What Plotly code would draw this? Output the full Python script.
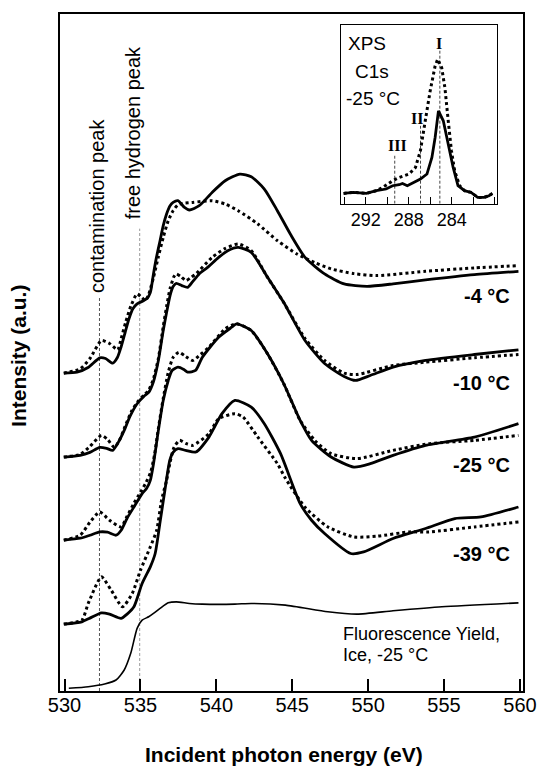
import plotly.graph_objects as go

# ---------------- main panel data (energy in eV, intensity in a.u.) ----------------
m4_solid_x = [529.95, 530.82, 531.55, 532.32, 532.70, 533.17, 533.48, 533.72, 533.99, 534.25, 534.51, 534.78,
              535.22, 535.43, 535.65, 535.86, 536.05, 536.29, 536.50, 536.72, 536.95, 537.15, 537.47, 537.90,
              538.22, 538.87, 539.72, 540.58, 541.55, 542.30, 543.16, 544.02, 544.87, 545.84, 547.13, 548.42,
              549.92, 551.64, 553.78, 557.00, 559.90]
m4_solid_y = [318.3, 319.3, 324, 333.7, 333, 328.3, 334, 344.3, 359, 373, 383, 387.7,
              391, 393, 399, 418, 434, 451, 466, 477.7, 486, 489.3, 491, 484.3,
              481.7, 486, 499.3, 511, 517.7, 515, 502.7, 481, 457.7, 434.3, 417.7, 407.7,
              405.3, 407.7, 411.7, 417, 420.3]
m4_dot_x = [529.95, 531.03, 531.67, 532.43, 532.96, 533.50, 533.73, 534.04, 534.38, 534.78, 535.09, 535.33,
            535.54, 535.86, 536.18, 536.50, 536.83, 537.15, 537.47, 537.79, 538.44, 539.72, 540.58, 541.44,
            542.73, 544.02, 545.31, 546.48, 547.56, 549.06, 550.56, 553.78, 557.00, 559.90]
m4_dot_y = [318.3, 322.7, 333, 351, 348, 341.7, 353, 370, 386, 397.7, 394, 391,
            397, 414.3, 435, 454.3, 471, 481, 487, 488.3, 489.3, 491, 487.7, 481,
            467.7, 451, 437.7, 429, 422.7, 418, 416, 420.3, 423.7, 426]

m10_solid_x = [529.95, 531.03, 531.67, 532.32, 532.77, 533.17, 533.54, 533.93, 534.31, 534.78, 535.22, 535.54,
               535.86, 536.18, 536.50, 536.72, 536.95, 537.15, 537.36, 537.73, 538.11, 538.44, 538.87, 539.40,
               540.15, 540.75, 541.44, 542.30, 543.37, 544.44, 545.84, 547.13, 548.42, 549.17, 550.14, 551.64,
               553.78, 557.00, 559.90]
m10_solid_y = [234.3, 236, 239, 244, 243, 241, 249, 261, 275, 287.7, 295, 299,
               310, 331, 361, 379, 396, 405, 408.3, 406, 404.3, 410, 417.7, 424,
               434.3, 441, 444.3, 439.3, 414.3, 389, 351, 328, 315, 311, 316, 324.3,
               331, 337, 341.7]
m10_dot_x = [529.95, 531.03, 531.67, 532.43, 532.83, 533.28, 533.61, 533.99, 534.44, 534.89, 535.28, 535.54,
             535.86, 536.18, 536.50, 536.72, 536.95, 537.21, 537.36, 537.66, 538.00, 538.31, 538.65, 539.72,
             540.56, 541.44, 542.30, 543.37, 544.44, 545.84, 547.13, 548.42, 549.27, 551.64, 553.78, 557.00,
             559.90]
m10_dot_y = [234.3, 237, 245, 256, 252, 244, 251, 265, 281, 291, 297, 301,
             313, 333, 365, 385, 403, 415, 417.7, 415, 411, 414, 417.7, 434.3,
             443, 447.7, 441, 414.3, 389, 353, 331, 318.3, 317, 326, 329.3, 333.7,
             337]

m25_solid_x = [529.95, 531.03, 531.67, 532.32, 532.83, 533.39, 533.73, 534.12, 534.57, 535.11, 535.41, 535.65,
               535.86, 536.18, 536.50, 536.83, 537.08, 537.47, 537.86, 538.11, 538.63, 539.08, 540.15, 541.01,
               541.33, 542.30, 543.37, 544.44, 545.52, 546.27, 547.56, 549.06, 550.14, 551.64, 553.78, 557.00,
               559.90]
m25_solid_y = [151, 153, 156, 159.3, 159, 156, 161, 173, 184.3, 197.7, 203, 211,
               227.7, 261, 291, 311, 321, 324.3, 322, 319.3, 321, 334.3, 354.3, 364.3,
               367.7, 361, 337.7, 307.7, 271, 251, 234.3, 224.3, 227.7, 236, 246, 254.3,
               267.7]
m25_dot_x = [529.95, 531.03, 531.67, 532.32, 532.96, 533.72, 534.12, 534.57, 535.00, 535.34, 535.67, 535.92,
             536.18, 536.50, 536.83, 537.15, 537.53, 537.98, 538.44, 538.95, 539.51, 540.58, 541.33, 542.30,
             543.37, 544.44, 545.52, 546.48, 547.56, 549.27, 551.64, 554.00, 557.00, 559.90]
m25_dot_y = [151, 156, 169, 179.3, 171, 164.3, 175, 188, 199, 208, 219, 236,
             263, 293, 319, 334, 339.3, 335, 331, 337, 344.3, 362.7, 367.7, 361,
             337.7, 307.7, 271, 251, 237.7, 232.7, 241, 247.7, 251, 256]

m39_solid_x = [529.95, 531.14, 531.67, 532.43, 532.96, 533.72, 534.12, 534.57, 535.11, 535.65, 535.97, 536.29,
               536.61, 536.93, 537.15, 537.47, 537.98, 538.65, 539.51, 540.37, 541.22, 542.30, 543.16, 544.23,
               545.52, 546.27, 547.13, 548.85, 549.70, 551.64, 553.78, 555.71, 557.43, 559.90]
m39_solid_y = [67, 69.3, 73, 78.3, 77, 72.7, 77, 84.3, 107.7, 124.3, 137.7, 169,
               201, 231, 239, 242.7, 241, 239.3, 254.3, 277.7, 291, 284.3, 267.7, 237.7,
               187.7, 171, 157.7, 137.7, 139.3, 152.7, 162.7, 172.7, 174.3, 184.3]
m39_dot_x = [529.95, 531.14, 531.56, 532.43, 533.07, 533.82, 534.46, 535.00, 535.65, 536.07, 536.39, 536.72,
             536.95, 537.21, 537.58, 537.98, 538.44, 539.51, 540.15, 541.22, 541.76, 542.73, 544.02, 544.55,
             545.84, 547.34, 549.06, 550.56, 552.71, 554.00, 557.00, 559.90]
m39_dot_y = [67, 71, 87.7, 114.3, 101, 84.3, 97.7, 121, 144.3, 161, 191, 211,
             229, 244, 251, 248, 246, 257.7, 272.7, 277.7, 274.3, 254.3, 227.7, 213,
             184, 164.3, 154.3, 155, 159.3, 159.3, 164.3, 169.3]

fy_x = [530.28, 531.56, 532.64, 533.39, 533.93, 534.36, 534.78, 535.11, 535.54, 535.86, 536.29, 536.83,
        537.36, 538.22, 539.08, 541.22, 542.30, 544.55, 547.34, 549.27, 551.64, 554.86, 559.90]
fy_y = [2.7, 4.3, 7, 11, 21, 37.7, 62.7, 71, 74.3, 77.7, 82.7, 88.3,
        89.3, 87.7, 87, 87, 87.7, 86, 79.3, 77, 80.3, 84.3, 88.3]

contamination_eV = 532.3
free_hydrogen_eV = 534.95
x_ticks = [530, 535, 540, 545, 550, 555, 560]

# ---------------- inset (XPS C1s) data ----------------
xps_solid_x = [294.06, 293.15, 291.94, 291.02, 290.11, 289.5, 288.89, 288.58, 288.13, 287.52, 286.91, 286.30,
               285.84, 285.54, 285.23, 284.78, 284.32, 283.86, 283.41, 282.80, 282.19, 281.58, 280.98, 280.52, 280.21]
xps_solid_y = [10.3, 11.3, 10.3, 13, 14.7, 18, 19, 20.3, 18, 21.3, 24.7, 29.7,
               46.3, 66.3, 93, 83, 59.7, 36.3, 18, 13, 11.3, 6.3, 6.3, 8, 10.3]
xps_dot_x = [294.06, 293.15, 291.94, 291.02, 290.41, 289.5, 288.89, 288.43, 287.97, 287.37, 286.91, 286.46,
             286.0, 285.54, 285.3, 284.93, 284.63, 284.32, 284.02, 283.72, 283.26, 282.80, 282.19, 281.58,
             280.98, 280.52, 280.21]
xps_dot_y = [10.3, 11.3, 10.3, 13, 16.3, 23, 26.3, 28, 29.7, 36.3, 53, 83,
             113, 138, 144.7, 136.3, 116.3, 83, 53, 33, 18, 13, 11.3, 6.3,
             6.3, 8, 10.3]
xps_peaks_eV = [285.1, 286.9, 289.3]
xps_peak_tops = [155, 78, 48]
xps_ticks = [294, 292, 290, 288, 286, 284, 282, 280]
xps_ticktext = ["", "292", "", "288", "", "284", "", ""]

temps = ["-4 °C", "-10 °C", "-25 °C", "-39 °C"]
temp_label_y = [396, 308, 226, 137]

FONT = "Liberation Sans, Arial, Helvetica, sans-serif"
SOLID = dict(color="black", width=2.8, shape="spline", smoothing=0.6)
DOT = dict(color="black", width=3, dash="3px,3px", shape="spline", smoothing=0.6)

fig = go.Figure()

pairs = [(m4_solid_x, m4_solid_y, m4_dot_x, m4_dot_y),
         (m10_solid_x, m10_solid_y, m10_dot_x, m10_dot_y),
         (m25_solid_x, m25_solid_y, m25_dot_x, m25_dot_y),
         (m39_solid_x, m39_solid_y, m39_dot_x, m39_dot_y)]
for sx, sy, dx, dy in pairs:
    fig.add_trace(go.Scatter(x=dx, y=dy, mode="lines", line=DOT, showlegend=False, hoverinfo="skip"))
    fig.add_trace(go.Scatter(x=sx, y=sy, mode="lines", line=SOLID, showlegend=False, hoverinfo="skip"))

fig.add_trace(go.Scatter(x=fy_x, y=fy_y, mode="lines",
                         line=dict(color="black", width=1.6, shape="spline", smoothing=0.6),
                         showlegend=False, hoverinfo="skip"))

# inset traces
fig.add_trace(go.Scatter(x=xps_dot_x, y=xps_dot_y, mode="lines", xaxis="x2", yaxis="y2",
                         line=dict(color="black", width=3, dash="3px,3px"), showlegend=False, hoverinfo="skip"))
fig.add_trace(go.Scatter(x=xps_solid_x, y=xps_solid_y, mode="lines", xaxis="x2", yaxis="y2",
                         line=dict(color="black", width=2.8), showlegend=False, hoverinfo="skip"))

shapes = [
    dict(type="line", xref="x", yref="y", x0=contamination_eV, x1=contamination_eV, y0=0, y1=394,
         line=dict(color="#555555", width=1, dash="3px,2px"), layer="below"),
    dict(type="line", xref="x", yref="y", x0=free_hydrogen_eV, x1=free_hydrogen_eV, y0=0, y1=463,
         line=dict(color="#999999", width=1, dash="3px,2px"), layer="below"),
]
for e, top in zip(xps_peaks_eV, xps_peak_tops):
    shapes.append(dict(type="line", xref="x2", yref="y2", x0=e, x1=e, y0=0, y1=top,
                       line=dict(color="#444444", width=1, dash="3px,2px"), layer="below"))

ann = []
ann.append(dict(x=532.09, y=486, xref="x", yref="y", text="contamination peak", textangle=-90,
                showarrow=False, font=dict(size=20, color="black", family=FONT)))
ann.append(dict(x=534.51, y=558.5, xref="x", yref="y", text="free hydrogen peak", textangle=-90,
                showarrow=False, font=dict(size=20, color="black", family=FONT)))
for t, yy in zip(temps, temp_label_y):
    ann.append(dict(x=559.49, y=yy, xref="x", yref="y", text="<b>%s</b>" % t, xanchor="right",
                    showarrow=False, font=dict(size=20, color="black", family=FONT)))
ann.append(dict(x=548.2, y=57, xref="x", yref="y", text="Fluorescence Yield,", xanchor="left",
                showarrow=False, font=dict(size=18, color="black", family=FONT)))
ann.append(dict(x=548.2, y=36, xref="x", yref="y", text="Ice, -25 °C", xanchor="left",
                showarrow=False, font=dict(size=18, color="black", family=FONT)))
# inset texts
for t, xx, yy in [("XPS", 291.87, 160), ("C1s", 291.46, 132), ("-25 °C", 291.28, 105)]:
    ann.append(dict(x=xx, y=yy, xref="x2", yref="y2", text=t, showarrow=False,
                    font=dict(size=19, color="black", family=FONT)))
for t, xx, yy in [("I", 285.18, 160), ("II", 287.21, 85), ("III", 289.04, 58)]:
    ann.append(dict(x=xx, y=yy, xref="x2", yref="y2", text="<b>%s</b>" % t, showarrow=False,
                    font=dict(size=16, color="black", family="Liberation Serif, Times New Roman, serif")))
# axis titles
ann.append(dict(x=0.4847, y=-0.0944, xref="paper", yref="paper", text="<b>Incident photon energy (eV)</b>",
                showarrow=False, xanchor="center", yanchor="middle",
                font=dict(size=21, color="black", family=FONT)))
ann.append(dict(x=-0.0898, y=0.4956, xref="paper", yref="paper", text="<b>Intensity (a.u.)</b>",
                textangle=-90, showarrow=False, xanchor="center", yanchor="middle",
                font=dict(size=21, color="black", family=FONT)))

fig.update_layout(
    width=549, height=766,
    margin=dict(l=59.5, r=16, t=13, b=75),
    paper_bgcolor="white", plot_bgcolor="white",
    font=dict(family=FONT, color="black"),
    xaxis=dict(range=[529.7, 560.2], tickvals=x_ticks, ticks="inside", ticklen=12, tickwidth=1.5,
               tickcolor="black", showline=True, linecolor="black", linewidth=1.5, mirror=True,
               showgrid=False, zeroline=False, ticklabelstandoff=-5,
               tickfont=dict(size=20, color="black", family=FONT)),
    yaxis=dict(range=[0, 678], showticklabels=False, ticks="", showline=True, linecolor="black",
               linewidth=1.5, mirror=True, showgrid=False, zeroline=False),
    xaxis2=dict(domain=[0.6061, 0.9445], anchor="y2", range=[294.34, 279.75], tickvals=xps_ticks,
                ticktext=xps_ticktext, ticks="inside", ticklen=7, tickwidth=1, tickcolor="black",
                showline=True, linecolor="black", linewidth=1.2, mirror=True, showgrid=False, zeroline=False,
                tickfont=dict(size=18, color="black", family=FONT)),
    yaxis2=dict(domain=[0.7198, 0.9838], anchor="x2", range=[0, 179], showticklabels=False, ticks="",
                showline=True, linecolor="black", linewidth=1.2, mirror=True, showgrid=False, zeroline=False),
    shapes=shapes, annotations=ann,
)

fig.write_html("out.html")
